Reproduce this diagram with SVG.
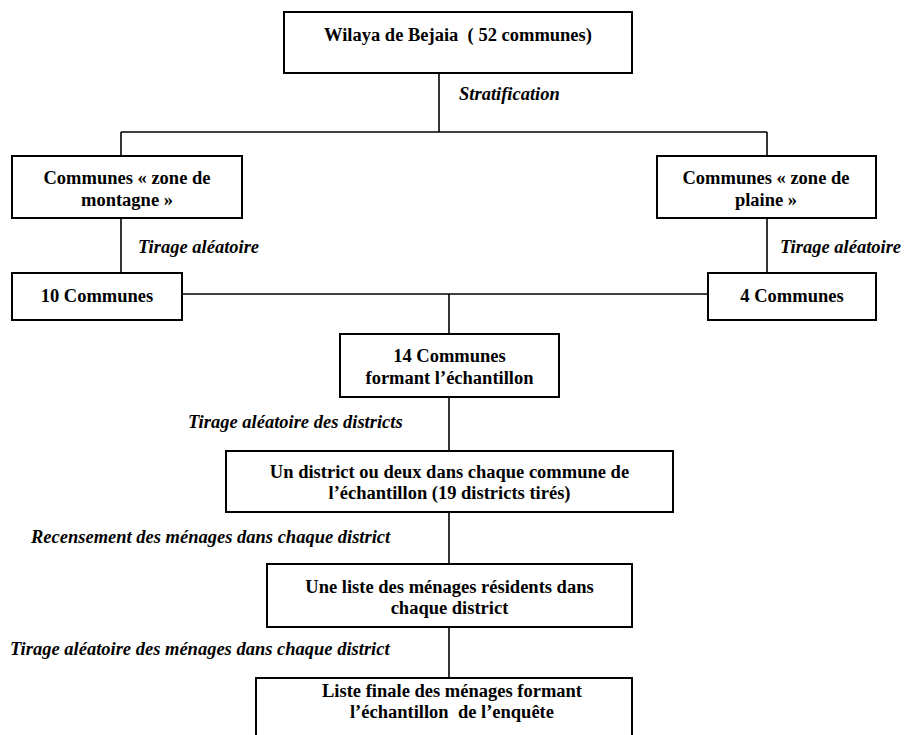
<svg xmlns="http://www.w3.org/2000/svg" width="912" height="735" viewBox="0 0 912 735">
<style>
.box{fill:#fff;stroke:#000;stroke-width:2}
.t{font-family:"Liberation Serif","Times New Roman",serif;font-weight:bold;font-size:18.5px;text-anchor:middle;fill:#000}
.l{font-family:"Liberation Serif","Times New Roman",serif;font-weight:bold;font-style:italic;font-size:18.5px;fill:#000}
.c{stroke:#000;stroke-width:1.6;fill:none}
</style>
<rect width="912" height="735" fill="#fff"/>
<g id="connectors">
<line class="c" x1="439" y1="73" x2="439" y2="132"/>
<line class="c" x1="121" y1="132" x2="767" y2="132"/>
<line class="c" x1="121" y1="132" x2="121" y2="156"/>
<line class="c" x1="767" y1="132" x2="767" y2="156"/>
<line class="c" x1="121" y1="218" x2="121" y2="273"/>
<line class="c" x1="767" y1="218" x2="767" y2="273"/>
<line class="c" x1="182" y1="294" x2="708" y2="294"/>
<line class="c" x1="449" y1="294" x2="449" y2="334"/>
<line class="c" x1="449" y1="397" x2="449" y2="451"/>
<line class="c" x1="449" y1="512" x2="449" y2="564"/>
<line class="c" x1="449" y1="627" x2="449" y2="678"/>
<text class="l" x="459" y="100">Stratification</text>
<text class="l" x="138" y="253">Tirage aléatoire</text>
<text class="l" x="780" y="253">Tirage aléatoire</text>
<text class="l" x="188" y="428">Tirage aléatoire des districts</text>
<text class="l" x="31" y="543">Recensement des ménages dans chaque district</text>
<text class="l" x="10" y="655">Tirage aléatoire des ménages dans chaque district</text>
</g>
<g id="wilaya">
<rect class="box" x="284" y="12" width="348" height="61"/>
<text class="t" x="458" y="41" xml:space="preserve">Wilaya de Bejaia  ( 52 communes)</text>
</g>
<g id="montagne">
<rect class="box" x="12" y="156" width="230" height="62"/>
<text class="t" x="127" y="184">Communes « zone de</text>
<text class="t" x="127" y="206">montagne »</text>
</g>
<g id="plaine">
<rect class="box" x="657" y="156" width="219" height="62"/>
<text class="t" x="766" y="184">Communes « zone de</text>
<text class="t" x="766" y="206">plaine »</text>
</g>
<g id="dix">
<rect class="box" x="12" y="273" width="170" height="47"/>
<text class="t" x="97" y="302">10 Communes</text>
</g>
<g id="quatre">
<rect class="box" x="708" y="273" width="168" height="47"/>
<text class="t" x="792" y="302">4 Communes</text>
</g>
<g id="quatorze">
<rect class="box" x="340" y="334" width="219" height="63"/>
<text class="t" x="449.5" y="362">14 Communes</text>
<text class="t" x="449.5" y="384">formant l’échantillon</text>
</g>
<g id="districts">
<rect class="box" x="226" y="451" width="447" height="61"/>
<text class="t" x="449.5" y="478">Un district ou deux dans chaque commune de</text>
<text class="t" x="449.5" y="499">l’échantillon (19 districts tirés)</text>
</g>
<g id="liste">
<rect class="box" x="267" y="564" width="365" height="63"/>
<text class="t" x="449.5" y="593">Une liste des ménages résidents dans</text>
<text class="t" x="449.5" y="614">chaque district</text>
</g>
<g id="finale">
<rect class="box" x="256" y="678" width="376" height="70"/>
<text class="t" x="452" y="697">Liste finale des ménages formant</text>
<text class="t" x="452" y="718" xml:space="preserve">l’échantillon  de l’enquête</text>
</g>
</svg>
